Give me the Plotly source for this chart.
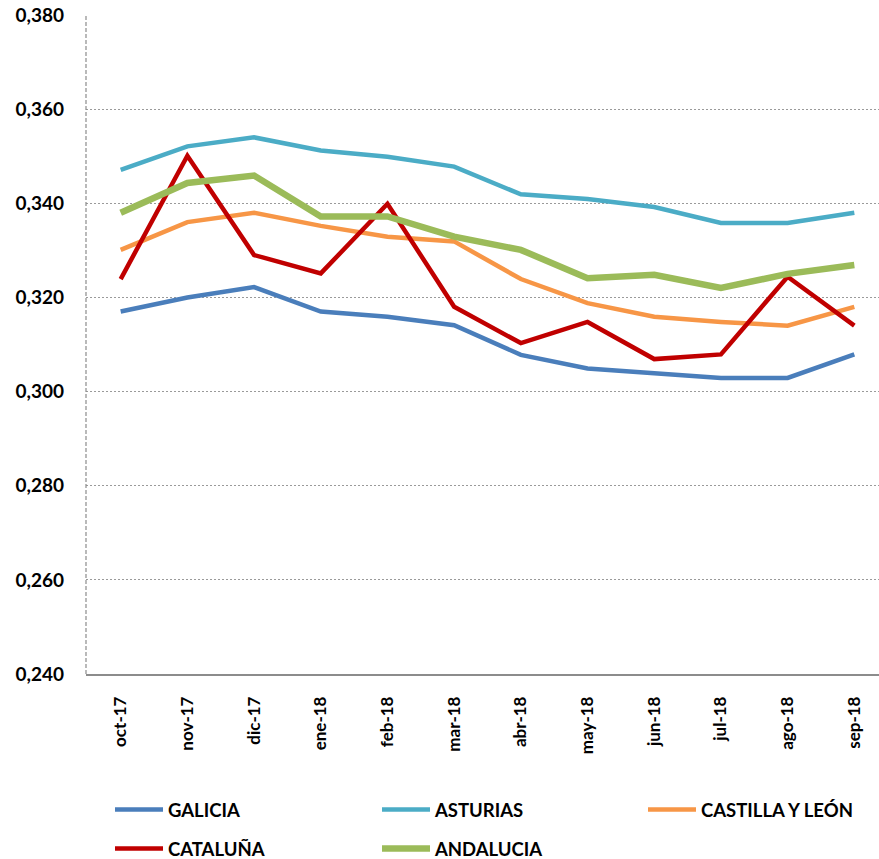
import plotly.graph_objects as go

categories = ["oct-17", "nov-17", "dic-17", "ene-18", "feb-18", "mar-18",
              "abr-18", "may-18", "jun-18", "jul-18", "ago-18", "sep-18"]

galicia = [0.3170, 0.3200, 0.3222, 0.3170, 0.3159, 0.3141,
           0.3078, 0.3049, 0.3039, 0.3029, 0.3029, 0.3079]
asturias = [0.3471, 0.3521, 0.3540, 0.3512, 0.3499, 0.3478,
            0.3419, 0.3409, 0.3392, 0.3358, 0.3358, 0.3380]
castilla = [0.3301, 0.3360, 0.3380, 0.3352, 0.3329, 0.3319,
            0.3239, 0.3188, 0.3159, 0.3148, 0.3140, 0.3180]
cataluna = [0.3239, 0.3501, 0.3290, 0.3251, 0.3399, 0.3180,
            0.3103, 0.3148, 0.3069, 0.3079, 0.3244, 0.3140]
andalucia = [0.3380, 0.3443, 0.3459, 0.3372, 0.3372, 0.3329,
             0.3301, 0.3241, 0.3248, 0.3220, 0.3250, 0.3269]

y_ticks = [0.240, 0.260, 0.280, 0.300, 0.320, 0.340, 0.360, 0.380]

FONT = "Lato, 'Open Sans', sans-serif"
W, H = 879, 859
ML, MT, MB = 86, 15, 185
PW, PH = W - ML, H - MT - MB
PLOT_LEFT, PLOT_BOTTOM = ML, H - MB

series = [
    ("GALICIA", galicia, "#4A7EBB", 4.5, "legend"),
    ("ASTURIAS", asturias, "#4BACC6", 4.5, "legend2"),
    ("CASTILLA Y LEÓN", castilla, "#F79646", 4.5, "legend3"),
    ("CATALUÑA", cataluna, "#C00000", 4.5, "legend"),
    ("ANDALUCIA", andalucia, "#9BBB59", 6.5, "legend2"),
]

fig = go.Figure()
for name, vals, color, w, lg in series:
    fig.add_trace(go.Scatter(
        x=list(range(len(categories))), y=vals, name=name, mode="lines",
        line=dict(color=color, width=w), legend=lg, legendgroup=name,
    ))

def leg(page_x, page_y):
    return dict(
        orientation="v", xref="paper", yref="paper",
        x=(page_x - PLOT_LEFT) / PW, y=(PLOT_BOTTOM - page_y) / PH,
        xanchor="left", yanchor="top",
        font=dict(family=FONT, size=18.5, color="#000000", weight="bold"),
        itemwidth=48, tracegroupgap=12,
        bgcolor="rgba(0,0,0,0)",
    )

fig.update_layout(
    width=W, height=H,
    paper_bgcolor="white", plot_bgcolor="white",
    margin=dict(l=ML, r=0, t=MT, b=MB, autoexpand=False),
    separators=",.",
    showlegend=True,
    legend=leg(110, 791),
    legend2=leg(377, 791),
    legend3=leg(643, 791),
    xaxis=dict(
        tickmode="array", tickvals=list(range(len(categories))), ticktext=categories,
        range=[-0.52, 11.37], tickangle=-90, automargin=False,
        tickfont=dict(family=FONT, size=17, color="#000000", weight="bold"),
        showgrid=False, zeroline=False,
        showline=True, linecolor="#8C8C8C", linewidth=1.5,
        ticks="", ticklabelstandoff=14,
    ),
    yaxis=dict(
        range=[0.240, 0.380], tickvals=y_ticks, tickformat=".3f", automargin=False,
        tickfont=dict(family=FONT, size=19, color="#000000", weight="bold"),
        showgrid=True, gridcolor="#9A9A9A", griddash="2px,2px", gridwidth=1.2,
        zeroline=False, showline=False, ticklabeloverflow="allow",
        ticks="", ticklabelstandoff=21,
    ),
    shapes=[dict(type="line", xref="paper", yref="paper", x0=0, x1=0, y0=0, y1=1,
                 line=dict(color="#8C8C8C", width=1.2, dash="4px,2px"), layer="above")],
)
fig.write_html(
    "out.html",
    config={"displayModeBar": False},
    post_script="document.body.style.margin='0';document.body.style.overflow='hidden';",
)
